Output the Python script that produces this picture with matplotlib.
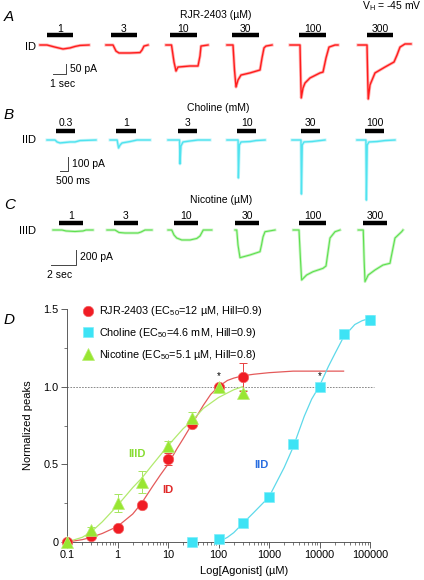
import numpy as np
import matplotlib
matplotlib.use('Agg')
import matplotlib.pyplot as plt
from matplotlib.ticker import FixedLocator, FixedFormatter, LogLocator, NullFormatter

plt.rcParams['font.family'] = ['Liberation Sans', 'DejaVu Sans']
plt.rcParams['mathtext.fontset'] = 'custom'
plt.rcParams['mathtext.rm'] = 'Liberation Sans'
plt.rcParams['mathtext.default'] = 'regular'

W, H = 424, 580  # figure size in pixels (dpi 100)

# ---------------- traces (time in s from trace start, current in pA) ----------------
rjr_doses = ['1', '3', '10', '30', '100', '300']
rjr_t = [[0, 0.56, 1.2, 1.84, 2.4, 2.8, 3.2, 3.92],
         [0, 0.56, 0.8, 1.04, 1.92, 2.72, 2.88, 3.04, 3.36],
         [0, 0.44, 0.64, 0.8, 0.96, 1.92, 2.56, 2.72, 2.8, 3.36],
         [0, 0.48, 0.6, 0.72, 0.88, 1.12, 1.84, 2.64, 2.8, 2.96, 3.12, 3.6],
         [0, 0.8, 0.86, 0.9, 1.04, 1.2, 1.6, 2.4, 2.64, 2.88, 3.12, 3.6, 3.84],
         [0, 0.72, 0.78, 0.82, 0.96, 1.36, 2.16, 2.88, 3.12, 3.36, 3.76, 4.24]]
rjr_i = [[0, 0, -10, -19, -14, -7, -2, 0],
         [0, 0, -29, -38, -38, -36, -24, -5, 0],
         [0, 0, -81, -124, -105, -100, -100, -52, -5, 0],
         [0, 0, -119, -200, -167, -143, -133, -119, -62, -14, -5, 0],
         [0, 0, -167, -252, -205, -181, -157, -133, -129, -62, -10, 0, 0],
         [0, 0, -167, -257, -190, -133, -105, -81, -48, -10, 5, 5]]
rjr_on = [0.56, 0.4, 0.32, 0.4, 0.72, 0.72]
rjr_off = [2.64, 2.48, 2.48, 2.56, 2.88, 2.8]

cho_doses = ['0.3', '1', '3', '10', '30', '100']
cho_t = [[0, 0.5, 0.625, 0.81, 1.44, 1.75, 2.06, 3.06],
         [0, 0.44, 0.53, 0.625, 0.75, 1.25, 1.69, 2.5],
         [0, 0.72, 0.75, 0.81, 0.94, 1.375, 1.875, 2.625],
         [0, 0.69, 0.71, 0.77, 0.875, 1.44, 1.81, 2.375],
         [0, 0.56, 0.59, 0.64, 0.75, 1.25, 1.75, 2.06],
         [0, 0.56, 0.59, 0.64, 0.75, 1.25, 1.75, 2.375]]
cho_i = [[0, 0, -14, -21, -14, -14, -4, 0],
         [0, 0, -57, -36, -21, -11, 0, 0],
         [0, 0, -171, -43, -14, -7, 0, 0],
         [0, 0, -271, -36, -14, -11, -4, 0],
         [0, 0, -386, -36, -14, -11, -4, 0],
         [0, 0, -429, -36, -14, -11, -4, 0]]
cho_on = [0.56, 0.375, 0.625, 0.625, 0.56, 0.5]
cho_off = [1.75, 1.625, 1.81, 1.81, 1.75, 1.69]

nic_doses = ['1', '3', '10', '30', '100', '300']
nic_t = [[0, 0.72, 1.04, 1.76, 2.4, 2.64, 3.2],
         [0, 0.64, 0.96, 1.44, 2.48, 2.72, 3.04, 3.6],
         [0, 0.3, 0.48, 0.7, 1.1, 1.76, 2.3, 2.56, 2.82, 3.5],
         [0, 0.14, 0.24, 0.4, 1.2, 2.0, 2.12, 2.24, 2.4, 3.2],
         [0, 0.46, 0.58, 0.67, 1.07, 1.58, 2.38, 2.62, 2.94, 3.34, 3.74],
         [0, 0.4, 0.47, 0.54, 0.8, 1.34, 1.98, 2.54, 2.62, 2.94, 3.47, 3.58]]
nic_i = [[0, 0, -13, -20, -13, 0, 0],
         [0, 0, -33, -40, -40, -27, 0, 0],
         [0, 0, -67, -107, -133, -133, -113, -80, 0, 0],
         [0, 0, -200, -369, -333, -289, -200, -93, -23, 0],
         [0, 0, -400, -667, -600, -556, -511, -480, -107, -23, 0],
         [0, 0, -400, -689, -600, -533, -467, -444, -373, -107, -23, 0]]
nic_on = [0.48, 0.56, 0.48, 0.0, 0.46, 0.38]
nic_off = [2.4, 2.48, 2.4, 1.92, 2.62, 2.3]

# ---------------- concentration-response (panel D) ----------------
rjr_conc = [0.1, 0.3, 1, 3, 10, 30, 100, 300]
rjr_peak = [0, 0.04, 0.093, 0.237, 0.534, 0.76, 1.0, 1.061]
rjr_sem = [0, 0.01, 0.015, 0.02, 0.04, 0.02, 0, 0.09]
nic_conc = [0.1, 0.3, 1, 3, 10, 30, 100, 300]
nic_peak = [0, 0.075, 0.25, 0.387, 0.62, 0.8, 1.0, 0.96]
nic_sem = [0, 0.02, 0.06, 0.07, 0.03, 0.04, 0, 0.02]
cho_conc = [30, 100, 300, 1000, 3000, 10000, 30000, 100000]
cho_peak = [0, 0.017, 0.125, 0.29, 0.628, 1.0, 1.338, 1.43]
cho_sem = [0, 0.01, 0.015, 0.02, 0.02, 0, 0.02, 0.03]

# fitted curves
rjr_fit_x = [0.1, 0.2, 0.3, 0.5, 1, 2, 3, 5, 7, 10, 15, 20, 30, 50, 70, 100, 150, 200, 300, 500, 1000, 3000, 30000]
rjr_fit_y = [0.0, 0.015, 0.03, 0.055, 0.1, 0.18, 0.25, 0.36, 0.43, 0.5, 0.6, 0.665, 0.76, 0.88, 0.95, 1.0, 1.04, 1.055, 1.07, 1.08, 1.09, 1.1, 1.1]
nic_fit_x = [0.1, 0.2, 0.3, 0.5, 1, 2, 3, 5, 10, 20, 30, 50, 100, 200, 300]
nic_fit_y = [0.0, 0.03, 0.064, 0.13, 0.235, 0.35, 0.41, 0.5, 0.62, 0.73, 0.78, 0.86, 0.93, 0.98, 1.0]
cho_fit_x = [100, 150, 200, 300, 500, 1000, 2000, 3000, 5000, 7000, 10000, 15000, 20000, 30000, 50000, 70000, 100000]
cho_fit_y = [0.0, 0.03, 0.06, 0.118, 0.19, 0.29, 0.48, 0.61, 0.81, 0.92, 1.005, 1.13, 1.21, 1.32, 1.40, 1.425, 1.44]

# ---------------- layout ----------------
fig = plt.figure(figsize=(W / 100, H / 100), dpi=100)


def px(x, y):
    return x / W, 1 - y / H


def row_axes(pps, ppa, base):
    # full-figure transparent axes: seconds on x, pA on y
    ax = fig.add_axes([0, 0, 1, 1])
    ax.set_xlim(0, W / pps)
    ax.set_ylim((base - H) / ppa, base / ppa)
    ax.axis('off')
    return ax


def draw_row(ax, x0s, ts, cur, ons, offs, doses, color, lw, bar_up, lab_up, ppa):
    for x0, t, i, on, off, d in zip(x0s, ts, cur, ons, offs, doses):
        t = np.asarray(t) + x0
        ax.plot(t, i, color=color, lw=lw + 1.2, alpha=0.35, solid_joinstyle='round')
        ax.plot(t, i, color=color, lw=lw, solid_joinstyle='round')
        ax.plot([x0 + on, x0 + off], [bar_up / ppa] * 2, color='k', lw=3.2, solid_capstyle='butt')
        ax.text(x0 + (on + off) / 2, lab_up / ppa, d, ha='center', va='center', fontsize=7.5)


def scale_bar(ax, x, y, dt, di, tlab, ilab, pps, ppa):
    ax.plot([x - dt, x, x], [y, y, y + di], color='#444444', lw=0.7)
    ax.text(x + 4 / pps, y + di / 2, ilab, ha='left', va='center', fontsize=7.5)
    ax.text(x - dt - 4 / pps, y - 10 / ppa, tlab, ha='left', va='center', fontsize=7.5)


# row A
ax_a = row_axes(12.5, 0.21, 45)
draw_row(ax_a, [3.2, 8.48, 13.28, 18.16, 23.2, 28.64], rjr_t, rjr_i, rjr_on, rjr_off,
         rjr_doses, '#ff1c1c', 1.0, 10, 16, 0.21)
scale_bar(ax_a, 66 / 12.5, -29 / 0.21, 1, 50, '1 sec', '50 pA', 12.5, 0.21)

# row B
ax_b = row_axes(16, 0.14, 140)
draw_row(ax_b, [2.94, 6.88, 10.5, 14.19, 18.25, 22.31], cho_t, cho_i, cho_on, cho_off,
         cho_doses, '#4fe3ef', 1.0, 9, 17, 0.14)
scale_bar(ax_b, 68 / 16, -31 / 0.14, 0.5, 100, '500 ms', '100 pA', 16, 0.14)

# row C
ax_c = row_axes(12.5, 0.075, 230)
draw_row(ax_c, [4.24, 8.56, 13.44, 18.8, 23.46, 28.66], nic_t, nic_i, nic_on, nic_off,
         nic_doses, '#5ee04e', 0.8, 7, 14, 0.075)
scale_bar(ax_c, 76 / 12.5, -35 / 0.075, 2, 200, '2 sec', '200 pA', 12.5, 0.075)

# panel letters and headings
for letter, y in zip('ABCD', [17, 115, 205, 320]):
    fig.text(*px(4, y), letter, fontsize=11, style='italic', va='center', ha='left')
fig.text(*px(216, 15), 'RJR-2403 (µM)', fontsize=7.5, ha='center', va='center')
fig.text(*px(218, 108), 'Choline (mM)', fontsize=7.5, ha='center', va='center')
fig.text(*px(221, 200), 'Nicotine (µM)', fontsize=7.5, ha='center', va='center')
fig.text(*px(422, 6), 'V$_{H}$ = -45 mV', fontsize=7.5, ha='right', va='center')
for lab, y in zip(['ID', 'IID', 'IIID'], [47, 140, 231]):
    fig.text(*px(36, y), lab, fontsize=8, ha='right', va='center')

# ---------------- panel D ----------------
axd = fig.add_axes([67 / W, 1 - 542 / H, 303 / W, 233 / H])
axd.set_xscale('log')
axd.set_xlim(0.1, 1e5)
axd.set_ylim(0, 1.5)
for s in ['top', 'right']:
    axd.spines[s].set_visible(False)
for s in ['left', 'bottom']:
    axd.spines[s].set_linewidth(0.6)
    axd.spines[s].set_color('#444444')

axd.plot([0.1, 1.2e5], [1, 1], ls=(0, (2, 1.5)), color='#777777', lw=0.6, clip_on=False)

axd.plot(rjr_fit_x, rjr_fit_y, color='#e45a5a', lw=0.9)
axd.plot(nic_fit_x, nic_fit_y, color='#b2ea6e', lw=0.9)
axd.plot(cho_fit_x, cho_fit_y, color='#5ed9ea', lw=0.9)

axd.errorbar(cho_conc, cho_peak, yerr=cho_sem, fmt='none', ecolor='#6ee2f2', elinewidth=0.7,
             capsize=3, capthick=0.7, clip_on=False)
h_cho, = axd.plot(cho_conc, cho_peak, 's', ms=7, color='#3de3f5', mec='#7eeefa', mew=0.5,
                  clip_on=False, zorder=3)
axd.errorbar(rjr_conc, rjr_peak, yerr=rjr_sem, fmt='none', ecolor='#e84040', elinewidth=0.7,
             capsize=3, capthick=0.7, clip_on=False)
h_rjr, = axd.plot(rjr_conc, rjr_peak, 'o', ms=7.5, color='#f01c24', mec='#f36060', mew=0.5,
                  clip_on=False, zorder=3)
axd.errorbar(nic_conc, nic_peak, yerr=nic_sem, fmt='none', ecolor='#a6e660', elinewidth=0.7,
             capsize=3, capthick=0.7, clip_on=False)
h_nic, = axd.plot(nic_conc, nic_peak, '^', ms=8, color='#98e632', mec='#b8ee70', mew=0.5,
                  clip_on=False, zorder=4)

axd.text(100, 1.065, '*', ha='center', va='center', fontsize=7)
axd.text(10000, 1.065, '*', ha='center', va='center', fontsize=7)
axd.text(2.4, 0.566, 'IIID', color='#88dd33', fontsize=8, fontweight='bold', ha='center', va='center')
axd.text(9.75, 0.334, 'ID', color='#e02a2a', fontsize=8, fontweight='bold', ha='center', va='center')
axd.text(700, 0.495, 'IID', color='#2a6ee0', fontsize=8, fontweight='bold', ha='center', va='center')

axd.legend([h_rjr, h_cho, h_nic],
           ['RJR-2403 (EC$_{50}$=12 µM, Hill=0.9)',
            'Choline (EC$_{50}$=4.6 mM, Hill=0.9)',
            'Nicotine (EC$_{50}$=5.1 µM, Hill=0.8)'],
           loc='upper left', bbox_to_anchor=(0.052, 1.02), frameon=False, fontsize=7.8,
           handlelength=1.0, handletextpad=0.5, labelspacing=0.72, borderpad=0,
           borderaxespad=0)

axd.xaxis.set_major_locator(FixedLocator([0.1, 1, 10, 100, 1000, 10000, 100000]))
axd.xaxis.set_major_formatter(FixedFormatter(['0.1', '1', '10', '100', '1000', '10000', '100000']))
axd.xaxis.set_minor_locator(LogLocator(base=10, subs=np.arange(2, 10), numticks=20))
axd.xaxis.set_minor_formatter(NullFormatter())
axd.yaxis.set_major_locator(FixedLocator([0, 0.5, 1.0, 1.5]))
axd.yaxis.set_major_formatter(FixedFormatter(['0', '0.5', '1.0', '1.5']))
axd.yaxis.set_minor_locator(FixedLocator([0.25, 0.75, 1.25]))
axd.tick_params(which='major', direction='out', length=4, width=0.6, color='#444444',
                labelsize=7.8, pad=2)
axd.tick_params(which='minor', direction='out', length=2, width=0.5, color='#444444')

fig.text(*px(28, 425), 'Normalized peaks', rotation=90, fontsize=8, ha='center', va='center')
fig.text(*px(244, 571), 'Log[Agonist] (µM)', fontsize=8, ha='center', va='center')

fig.savefig('out.png', dpi=100)
